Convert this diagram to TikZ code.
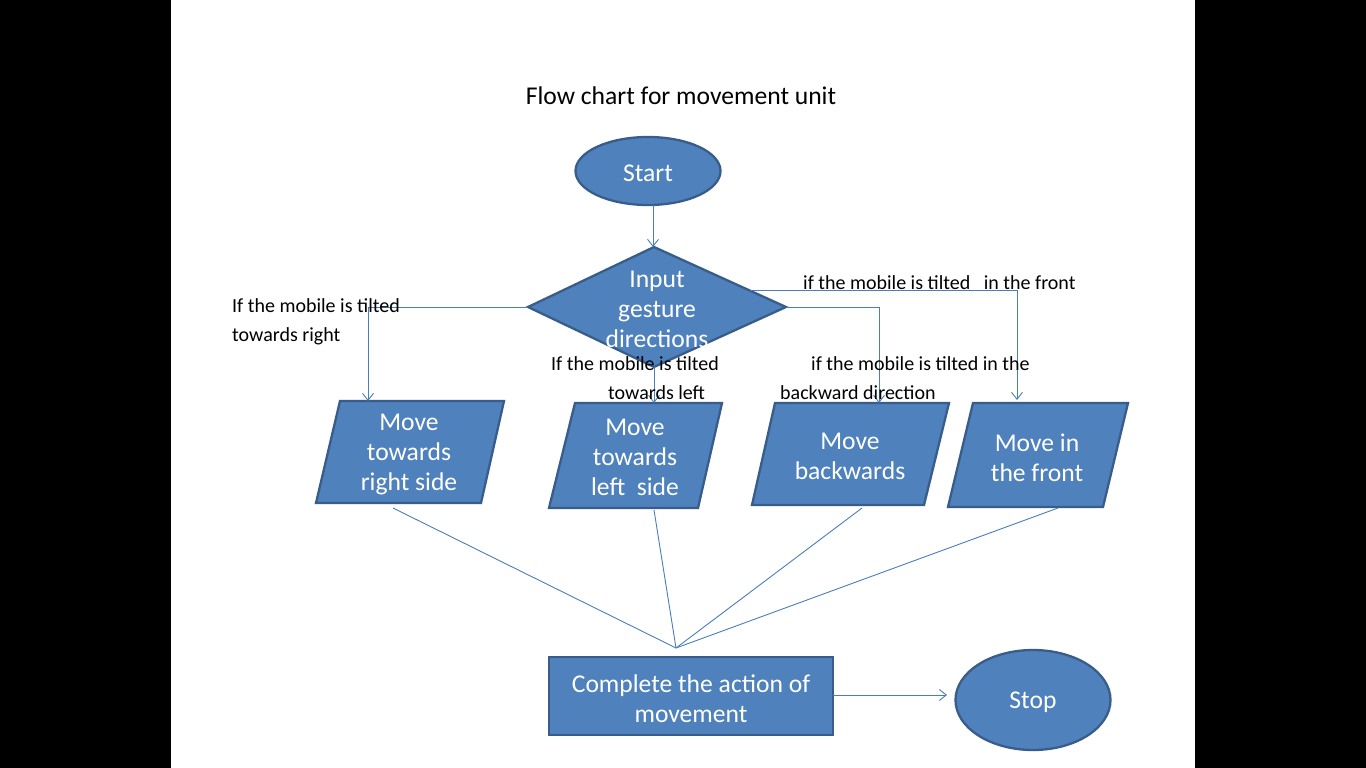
\documentclass[tikz,border=0pt]{standalone}
\usepackage{fontspec}
\setmainfont{Carlito}
\usetikzlibrary{arrows.meta,shapes.geometric}
\definecolor{boxfill}{HTML}{4F81BD}
\definecolor{boxline}{HTML}{385D8A}
\definecolor{conncol}{HTML}{4A7EBB}
\begin{document}
\begin{tikzpicture}[x=1pt,y=-1pt,
  shapebox/.style={fill=boxfill,draw=boxline,line width=2.3pt,line join=miter},
  boxtext/.style={text=white,font=\fontsize{25.6}{30}\selectfont,align=center,inner sep=0pt,yshift=-2.5pt},
  lbl/.style={text=black,font=\fontsize{20}{29}\selectfont,anchor=west,inner sep=0pt,align=left,yshift=-1.5pt},
  conn/.style={draw=conncol,line width=0.9pt},
  arr/.style={conn,-{Straight Barb[length=7pt,width=11pt,line width=0.9pt]}}]
\useasboundingbox (0,0) rectangle (1366,768);
\fill[white] (0,0) rectangle (1366,768);
\fill[black] (0,0) rectangle (171,768);
\fill[black] (1195,0) rectangle (1366,768);

% title
\node[text=black,font=\fontsize{25.6}{30}\selectfont,inner sep=0pt] (title) at (681,96) {Flow chart for movement unit};

% start
\node[shapebox,ellipse,minimum width=145pt,minimum height=68pt,inner sep=0pt] (start) at (648,171) {};
\node[boxtext] (starttxt) at (648,171) {Start};

% diamond
\coordinate (dtop) at (654,247);
\coordinate (dleft) at (528,307);
\coordinate (dright) at (786,307);
\coordinate (dbot) at (654,367);
\draw[shapebox] (dtop) -- (dright) -- (dbot) -- (dleft) -- cycle;
\node[boxtext] (dtxt) at (657,307) {Input\\gesture\\directions};

% parallelograms
\draw[shapebox] (340,401) -- (504,401) -- (481,503) -- (316,503) -- cycle;
\node[boxtext] (rtxt) at (409,452) {Move\\towards\\right side};
\draw[shapebox] (575,403) -- (722,403) -- (698,508) -- (549,508) -- cycle;
\node[boxtext] (ltxt) at (635,455) {Move\\towards\\left\ \ side};
\draw[shapebox] (775,403) -- (949,403) -- (924,505) -- (752,505) -- cycle;
\node[boxtext] (btxt) at (850,454) {Move\\backwards};
\draw[shapebox] (973,403) -- (1128,403) -- (1103,507) -- (948,507) -- cycle;
\node[boxtext] (ftxt) at (1037,455) {Move in\\the front};

% complete and stop
\node[shapebox,rectangle,minimum width=284pt,minimum height=78pt,inner sep=0pt] (comp) at (691,696) {};
\node[boxtext] (comptxt) at (691,696) {Complete the action of\\movement};
\node[shapebox,ellipse,minimum width=155pt,minimum height=100pt,inner sep=0pt] (stop) at (1033,700) {};
\node[boxtext] (stoptxt) at (1033,700) {Stop};

% connector coordinates
\coordinate (startout) at (653,205);
\coordinate (dtopin) at (653,247);
\coordinate (rin) at (368,401);
\coordinate (lin) at (654,403);
\coordinate (bin) at (879,403);
\coordinate (dur) at (750,290);
\coordinate (fin) at (1017,400);
\coordinate (rout) at (393,508);
\coordinate (lout) at (654,510);
\coordinate (bout) at (862,508);
\coordinate (fout) at (1058,508);
\coordinate (conv) at (676,648);
\coordinate (compout) at (833,695);
\coordinate (stopin) at (947,695);

\draw[arr] (startout) -- (dtopin);
\draw[arr] (dleft) -| (rin);
\draw[arr] (dbot) -- (lin);
\draw[arr] (dright) -| (bin);
\draw[arr] (dur) -| (fin);
\draw[conn] (rout) -- (conv);
\draw[conn] (lout) -- (conv);
\draw[conn] (bout) -- (conv);
\draw[conn] (fout) -- (conv);
\draw[arr] (compout) -- (stopin);

% labels
\node[lbl] (l1) at (232,320.5) {If the mobile is tilted\\towards right};
\node[lbl] (l2) at (803,281) {if the mobile is tilted\ \ \ in the front};
\node[lbl] (l3a) at (551,362) {If the mobile is tilted};
\node[lbl] (l3b) at (608,391) {towards left};
\node[lbl] (l4a) at (811,362) {if the mobile is tilted in the};
\node[lbl] (l4b) at (780,391) {backward direction};
\end{tikzpicture}
\end{document}
